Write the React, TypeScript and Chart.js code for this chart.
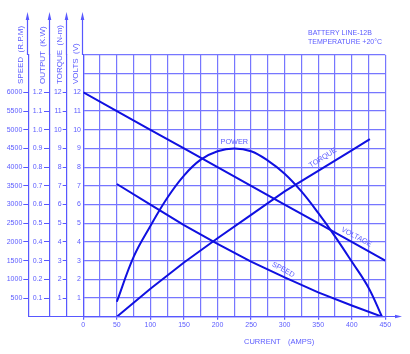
import React, { useEffect, useRef } from 'react';
import { Chart, registerables } from 'chart.js';

Chart.register(...registerables);

// ---- data ----
const voltageCurrent = [0, 50, 100, 150, 200, 250, 300, 350, 400, 450];
const voltageValues = [12, 11, 10, 9, 8, 7, 6, 5, 4, 3]; // V

const powerCurrent = [50, 75, 100, 125, 150, 175, 200, 225, 250, 275, 300, 325, 350, 375, 400, 425, 445];
const powerValues = [0.08, 0.32, 0.485, 0.635, 0.755, 0.84, 0.885, 0.9, 0.885, 0.835, 0.765, 0.67, 0.555, 0.43, 0.295, 0.155, 0]; // kW

const torqueCurrent = [50, 100, 150, 200, 250, 300, 350, 400, 427];
const torqueValues = [0, 1.5, 2.9, 4.2, 5.45, 6.7, 7.8, 8.9, 9.5]; // N-m

const speedCurrent = [50, 100, 150, 200, 250, 300, 350, 400, 445];
const speedValues = [3550, 3000, 2450, 1950, 1475, 1050, 650, 300, 0]; // rpm

const axisTitles = ['SPEED  (R.P.M)', 'OUTPUT  (K.W)', 'TORQUE  (N-m)', 'VOLTS  (V)'];
const noteLines = ['BATTERY LINE-12B', 'TEMPERATURE +20°C'];

const GRID = '#7676ff';
const AXIS = '#5858ff';
const TEXT = '#5c5cff';
const LINE = '#1010e0';
const FONT = '"Liberation Sans", Arial, sans-serif';

const pts = (xs: number[], ys: number[]) => xs.map((x, i) => ({ x, y: ys[i] }));

const decorPlugin = {
  id: 'decor',
  afterDraw(chart: any) {
    const ctx = chart.ctx;
    const ca = chart.chartArea;
    const s = chart.scales;
    ctx.save();
    ctx.strokeStyle = AXIS;
    ctx.fillStyle = AXIS;
    ctx.lineWidth = 1.2;
    const ids = ['speed', 'output', 'torque', 'volts'];
    ids.forEach((id, i) => {
      const x = Math.round(s[id].right) - 0.5;
      ctx.beginPath();
      ctx.moveTo(x, ca.top);
      ctx.lineTo(x, 18);
      ctx.stroke();
      ctx.beginPath();
      ctx.moveTo(x, 12);
      ctx.lineTo(x - 1.8, 20);
      ctx.lineTo(x + 1.8, 20);
      ctx.closePath();
      ctx.fill();
      // title
      ctx.save();
      ctx.translate(x - 7, 84);
      ctx.rotate(-Math.PI / 2);
      ctx.font = `8px ${FONT}`;
      ctx.fillStyle = TEXT;
      ctx.textAlign = 'left';
      ctx.textBaseline = 'middle';
      ctx.fillText(axisTitles[i], 0, 0);
      ctx.restore();
    });
    // bottom axis extension + arrow
    const yb = Math.round(ca.bottom) - 0.5;
    ctx.beginPath();
    ctx.moveTo(s.speed.right, yb);
    ctx.lineTo(397, yb);
    ctx.stroke();
    ctx.beginPath();
    ctx.moveTo(402, yb);
    ctx.lineTo(395, yb - 1.8);
    ctx.lineTo(395, yb + 1.8);
    ctx.closePath();
    ctx.fill();

    ctx.fillStyle = TEXT;
    ctx.font = `7.5px ${FONT}`;
    ctx.textBaseline = 'middle';
    ctx.textAlign = 'left';
    ctx.fillText('CURRENT', 244, 342);
    ctx.fillText('(AMPS)', 288, 342);

    ctx.font = `7px ${FONT}`;
    ctx.fillText(noteLines[0], 308, 33);
    ctx.fillText(noteLines[1], 308, 42);

    // in-plot curve labels
    const lab = (t: string, xv: number, yv: number, ang: number) => {
      const px = s.x.getPixelForValue(xv);
      const py = s.volts.getPixelForValue(yv);
      ctx.save();
      ctx.translate(px, py);
      ctx.rotate((ang * Math.PI) / 180);
      ctx.textAlign = 'center';
      ctx.textBaseline = 'middle';
      ctx.font = `7.3px ${FONT}`;
      ctx.fillText(t, 0, 0);
      ctx.restore();
    };
    lab('POWER', 225, 9.35, 0);
    lab('TORQUE', 357, 8.5, -32);
    lab('VOLTAGE', 407, 4.26, 28);
    lab('SPEED', 298, 2.51, 28);
    ctx.restore();
  },
};

function sideAxis(max: number, step: number, lo: number, hi: number, width: number, fmt: (v: number) => string, weight: number, tickLen: number, pad: number) {
  return {
    type: 'linear',
    position: 'left',
    weight,
    min: 0,
    max,
    ticks: {
      stepSize: step,
      autoSkip: false,
      padding: pad,
      color: TEXT,
      font: { family: FONT, size: 7 },
      callback: (v: number) => (v >= lo - step / 2 && v <= hi + step / 2 ? fmt(v) : ''),
    },
    grid: {
      drawOnChartArea: false,
      tickLength: tickLen,
      tickWidth: 1,
      tickColor: (c: any) => {
        const v = c.tick ? c.tick.value : -1;
        return v >= lo - step / 2 && v <= hi + step / 2 ? AXIS : 'rgba(0,0,0,0)';
      },
    },
    border: { display: true, color: AXIS, width: 1.2 },
    afterFit: (sc: any) => {
      sc.width = width;
    },
  };
}

export default function App() {
  const ref = useRef<HTMLCanvasElement>(null);
  useEffect(() => {
    document.body.style.margin = '0';
    const chart = new Chart(ref.current as HTMLCanvasElement, {
      type: 'line',
      data: {
        datasets: [
          { label: 'Voltage', data: pts(voltageCurrent, voltageValues), yAxisID: 'volts', borderColor: LINE, borderWidth: 2, pointRadius: 0, tension: 0 },
          { label: 'Power', data: pts(powerCurrent, powerValues), yAxisID: 'output', borderColor: LINE, borderWidth: 2, pointRadius: 0, tension: 0.4 },
          { label: 'Torque', data: pts(torqueCurrent, torqueValues), yAxisID: 'torque', borderColor: LINE, borderWidth: 2, pointRadius: 0, tension: 0 },
          { label: 'Speed', data: pts(speedCurrent, speedValues), yAxisID: 'speed', borderColor: LINE, borderWidth: 2, pointRadius: 0, tension: 0 },
        ] as any,
      },
      options: {
        animation: false,
        responsive: false,
        layout: { padding: { top: 55, right: 24.7, bottom: 0, left: 0 } },
        plugins: { legend: { display: false }, tooltip: { enabled: false } },
        scales: {
          x: {
            type: 'linear',
            min: 0,
            max: 450,
            ticks: {
              stepSize: 25,
              autoSkip: false,
              maxRotation: 0,
              padding: 1,
              color: TEXT,
              font: { family: FONT, size: 7 },
              callback: (v: number) => (v % 50 === 0 ? String(v) : ''),
            },
            grid: {
              color: GRID,
              lineWidth: 1.2,
              tickLength: 3,
              tickColor: (c: any) => (c.tick && c.tick.value % 50 === 0 ? AXIS : 'rgba(0,0,0,0)'),
            },
            border: { display: true, color: AXIS, width: 1.2 },
            afterFit: (sc: any) => {
              sc.height = 37.3;
            },
          },
          speed: sideAxis(7000, 500, 500, 6000, 28.3, (v) => String(v), 4, 5, 1),
          output: sideAxis(1.4, 0.1, 0.1, 1.2, 21.7, (v) => v.toFixed(1), 3, 6, 1.5),
          torque: sideAxis(14, 1, 1, 12, 16.7, (v) => String(v), 2, 4, 1),
          volts: {
            type: 'linear',
            position: 'left',
            weight: 1,
            min: 0,
            max: 14,
            ticks: {
              stepSize: 1,
              autoSkip: false,
              padding: 2.3,
              color: TEXT,
              font: { family: FONT, size: 7 },
              callback: (v: number) => (v >= 1 && v <= 12 ? String(v) : ''),
            },
            grid: { color: GRID, lineWidth: 1.2, drawTicks: false },
            border: { display: true, color: AXIS, width: 1.2 },
            afterFit: (sc: any) => {
              sc.width = 16.6;
            },
          },
        } as any,
      },
      plugins: [decorPlugin],
    });
    return () => chart.destroy();
  }, []);
  return (
    <div style={{ position: 'absolute', left: 0, top: 0, width: 410, height: 354 }}>
      <canvas ref={ref} width={410} height={354} />
    </div>
  );
}
